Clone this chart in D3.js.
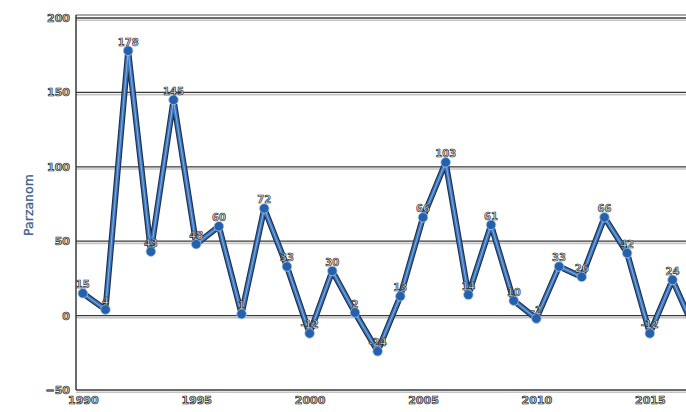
<!DOCTYPE html>
<html>
<head>
<meta charset="utf-8">
<script src="https://cdn.jsdelivr.net/npm/d3@7"></script>
<style>
  html, body { margin: 0; padding: 0; background: #fff; overflow: hidden; }
  svg { display: block; }
  text { font-family: "DejaVu Sans", sans-serif; }
</style>
</head>
<body>
<svg id="chart" width="686" height="412"></svg>
<script>
const years = [1990,1991,1992,1993,1994,1995,1996,1997,1998,1999,2000,2001,2002,2003,2004,2005,2006,2007,2008,2009,2010,2011,2012,2013,2014,2015,2016,2017];
const values = [15,4,178,43,145,48,60,1,72,33,-12,30,2,-24,13,66,103,14,61,10,-2,33,26,66,42,-12,24,-10];
const yTicks = [-50,0,50,100,150,200];
const xTicks = [1990,1995,2000,2005,2010,2015];
const yTitle = "Parzanom";

const svg = d3.select("#chart");
const x = d3.scaleLinear().domain([1989.7, 2020]).range([76, 763.2]);
const y = d3.scaleLinear().domain([-50, 200]).range([390, 18]);

// gridlines
const grid = svg.append("g");
yTicks.forEach(t => {
  grid.append("line").attr("x1", x(1989.7)).attr("x2", 700)
    .attr("y1", y(t) + 2.2).attr("y2", y(t) + 2.2)
    .attr("stroke", "#c4c4c4").attr("stroke-width", 1.6);
  grid.append("line").attr("x1", x(1989.7)).attr("x2", 700)
    .attr("y1", y(t)).attr("y2", y(t))
    .attr("stroke", "#3a3a3a").attr("stroke-width", 1.3);
});
// top double border
grid.append("line").attr("x1", x(1989.7)).attr("x2", 700)
  .attr("y1", y(200) - 3).attr("y2", y(200) - 3)
  .attr("stroke", "#555").attr("stroke-width", 1.2);

// left axis line
svg.append("line").attr("x1", x(1989.7)).attr("x2", x(1989.7))
  .attr("y1", y(200) - 3).attr("y2", y(-50))
  .attr("stroke", "#3a3a3a").attr("stroke-width", 1.5);

// y tick labels
const yAxis = d3.axisLeft(y).tickValues(yTicks).tickSize(0).tickPadding(6);
const gy = svg.append("g").attr("transform", `translate(${x(1989.7)},0)`).call(yAxis);
gy.select(".domain").remove();
gy.selectAll("text").attr("font-size", 11).attr("fill", "#cfcfcf")
  .attr("stroke", "#222").attr("stroke-width", 0.7).attr("font-weight", "bold");

// x tick labels
const xAxis = d3.axisBottom(x).tickValues(xTicks).tickFormat(d3.format("d")).tickSize(0).tickPadding(6);
const gx = svg.append("g").attr("transform", `translate(0,${y(-50)})`).call(xAxis);
gx.select(".domain").remove();
gx.selectAll("text").attr("font-size", 11).attr("fill", "#cfcfcf")
  .attr("stroke", "#222").attr("stroke-width", 0.7).attr("font-weight", "bold");

// y title
svg.append("text")
  .attr("transform", `translate(33,205) rotate(-90)`)
  .attr("text-anchor", "middle").attr("font-size", 12.5)
  .attr("fill", "#3d5f8c").attr("stroke", "#3d5f8c").attr("stroke-width", 0.3)
  .text(yTitle);

const data = years.map((yr, i) => ({ yr, v: values[i] }));
const line = d3.line().x(d => x(d.yr)).y(d => y(d.v));

svg.append("path").datum(data).attr("d", line).attr("fill", "none")
  .attr("stroke", "#1c2f4d").attr("stroke-width", 6).attr("stroke-linejoin", "round");
svg.append("path").datum(data).attr("d", line).attr("fill", "none")
  .attr("stroke", "#3a74bb").attr("stroke-width", 3.8).attr("stroke-linejoin", "round");
svg.append("path").datum(data).attr("d", line).attr("fill", "none")
  .attr("stroke", "#8fb6e4").attr("stroke-width", 0.9).attr("stroke-linejoin", "round");

svg.append("g").selectAll("circle").data(data).join("circle")
  .attr("cx", d => x(d.yr)).attr("cy", d => y(d.v)).attr("r", 4.8)
  .attr("fill", "#2460ac").attr("stroke", "#a9c6ea").attr("stroke-width", 0.8);

svg.append("g").selectAll("text").data(data).join("text")
  .attr("x", d => x(d.yr)).attr("y", d => y(d.v) - 5)
  .attr("text-anchor", "middle").attr("font-size", 10).attr("font-weight", "bold")
  .attr("fill", "#d6d6d6").attr("stroke", "#222").attr("stroke-width", 0.6)
  .text(d => d.v);
</script>
</body>
</html>
